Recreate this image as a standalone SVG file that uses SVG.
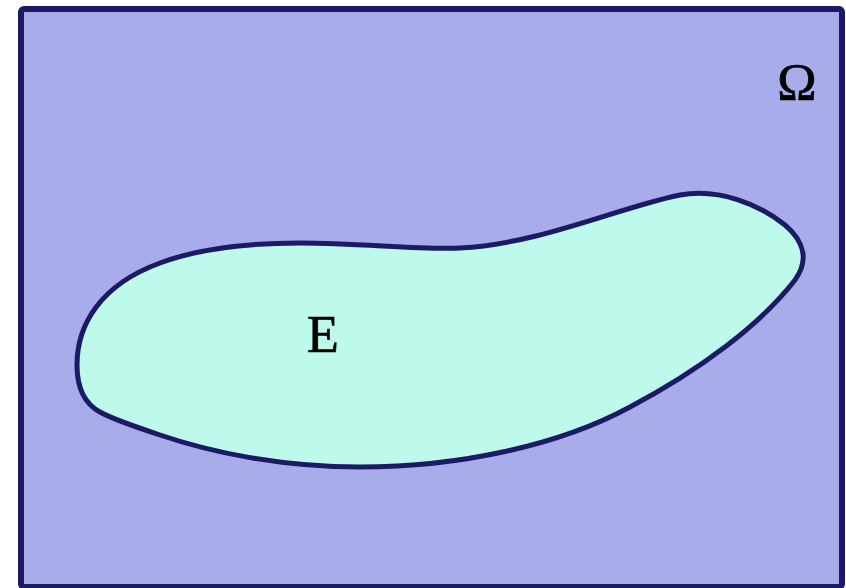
<svg xmlns="http://www.w3.org/2000/svg" width="846" height="588" viewBox="0 0 846 588">
<style>
.lbl{font-family:"Liberation Serif","DejaVu Serif",serif;font-size:52px;fill:#000;stroke:#000;stroke-width:0.7;text-anchor:middle}
</style>
<rect width="846" height="588" fill="#ffffff"/>
<g id="omega">
<rect x="21" y="9" width="821" height="578" rx="3" fill="#a8acea" stroke="#1c1a64" stroke-width="6"/>
<text class="lbl" x="797" y="100" style="font-size:53px">Ω</text>
</g>
<g id="E">
<path d="M 100 412 C 85 404, 77 388, 77 365 C 77 325, 100 285, 160 263 C 200 248, 250 243, 300 243 C 360 243, 420 250, 460 248 C 540 244, 620 207, 680 195 C 720 188, 760 205, 785 225 C 806 243, 808 262, 795 280 C 760 325, 700 370, 630 407 C 560 445, 460 467, 360 467 C 280 467, 210 452, 160 435 C 130 425, 110 418, 100 412 Z" fill="#bdfaec" stroke="#1c1a64" stroke-width="5"/>
<text class="lbl" x="323" y="352">E</text>
</g>
<g id="connectors"/>
</svg>
